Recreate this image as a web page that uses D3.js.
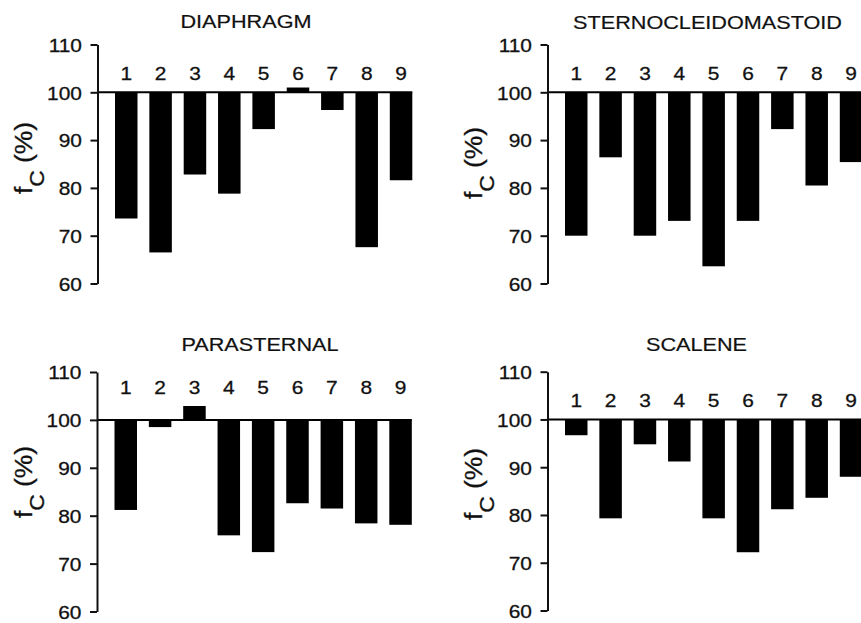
<!DOCTYPE html>
<html>
<head>
<meta charset="utf-8">
<script src="https://cdn.jsdelivr.net/npm/d3@7"></script>
<style>
  html, body { margin: 0; padding: 0; background: #fff; }
  svg { display: block; }
  text { font-family: "Liberation Sans", Arial, sans-serif; fill: #111; stroke: #111; stroke-width: 0.3px; }
</style>
</head>
<body>
<svg id="chart" width="861" height="623"></svg>
<script>
// Contraction frequency fc (% of control) for nine subjects, per muscle
const subjects = ["1", "2", "3", "4", "5", "6", "7", "8", "9"];
const muscles = ["DIAPHRAGM", "STERNOCLEIDOMASTOID", "PARASTERNAL", "SCALENE"];
const diaphragm = [73.6, 66.5, 82.8, 78.8, 92.3, 101.0, 96.3, 67.6, 81.6];
const sternocleidomastoid = [70.0, 86.4, 70.0, 73.1, 63.6, 73.1, 92.3, 80.5, 85.4];
const parasternal = [81.2, 98.5, 102.9, 75.9, 72.4, 82.6, 81.5, 78.4, 78.1];
const scalene = [96.7, 79.3, 94.8, 91.2, 79.3, 72.2, 81.2, 83.6, 88.0];
const yTicks = [60, 70, 80, 90, 100, 110];
const reference = 100;

const seriesList = [diaphragm, sternocleidomastoid, parasternal, scalene];

// Panel placement (pixels) and the level at which subject numbers sit
const layout = [
  { x0: 97.5, yTop: 44.5, yBot: 283.5, titleX: 246,   titleY: 27.5, labelLevel: 102.6, yLabelY: 158 },
  { x0: 547.5, yTop: 44.5, yBot: 283.5, titleX: 707.5, titleY: 28.5, labelLevel: 102.6, yLabelY: 163 },
  { x0: 97,   yTop: 372,  yBot: 611.5, titleX: 260,   titleY: 351,  labelLevel: 105.4, yLabelY: 482 },
  { x0: 547.5, yTop: 371.7, yBot: 610.5, titleX: 696.5, titleY: 351, labelLevel: 102.6, yLabelY: 484 }
];

const svg = d3.select("#chart");
const stretch = 1.1;

layout.forEach((L, p) => {
  const values = seriesList[p];
  const g = svg.append("g");

  const y = d3.scaleLinear().domain([60, 110]).range([L.yBot, L.yTop]);
  const bandStart = L.x0 + 17.5;
  const x = d3.scaleBand()
    .domain(subjects)
    .range([bandStart, bandStart + 8 * 34.35 + 22.5])
    .paddingInner(0.345)
    .paddingOuter(0);

  // bars hang from (or rise above) the 100 % reference
  g.selectAll("rect.bar")
    .data(values)
    .enter().append("rect")
    .attr("class", "bar")
    .attr("x", (d, i) => x(subjects[i]))
    .attr("width", x.bandwidth())
    .attr("y", d => y(Math.max(d, reference)))
    .attr("height", d => Math.abs(y(d) - y(reference)))
    .attr("fill", "#000");

  // reference line at 100 %
  g.append("line")
    .attr("x1", L.x0)
    .attr("x2", x(subjects[8]) + x.bandwidth())
    .attr("y1", y(reference))
    .attr("y2", y(reference))
    .attr("stroke", "#000")
    .attr("stroke-width", 2);

  // y axis
  const axis = g.append("g")
    .attr("transform", `translate(${L.x0},0)`)
    .call(d3.axisLeft(y).tickValues(yTicks).tickSize(7).tickSizeOuter(0).tickFormat(d3.format("d")));
  axis.select(".domain").attr("stroke", "#111").attr("stroke-width", 2);
  axis.selectAll(".tick line").attr("stroke", "#111").attr("stroke-width", 2);
  axis.selectAll(".tick text")
    .attr("x", null)
    .attr("dy", "0.36em")
    .attr("transform", `translate(-15.5,0) scale(${stretch},1)`)
    .style("font-family", "'Liberation Sans', Arial, sans-serif")
    .style("font-size", "19px")
    .style("fill", "#111")
    .style("stroke", "#111")
    .style("stroke-width", "0.3px");

  // subject numbers
  g.selectAll("text.subj")
    .data(subjects)
    .enter().append("text")
    .attr("class", "subj")
    .attr("text-anchor", "middle")
    .attr("transform", d => `translate(${x(d) + x.bandwidth() / 2},${y(L.labelLevel)}) scale(${stretch},1)`)
    .style("font-size", "19px")
    .text(d => d);

  // panel title
  g.append("text")
    .attr("text-anchor", "middle")
    .attr("transform", `translate(${L.titleX},${L.titleY}) scale(1.17,1)`)
    .style("font-size", "18.5px")
    .style("stroke-width", "0.2px")
    .text(muscles[p]);

  // y-axis label: fC (%)
  const yl = g.append("text")
    .attr("text-anchor", "middle")
    .attr("transform", `translate(${L.x0 - 65.5},${L.yLabelY}) rotate(-90) scale(1.2,1.1)`)
    .style("font-size", "22px");
  yl.append("tspan").text("f");
  yl.append("tspan").attr("baseline-shift", "sub").style("font-size", "19px").text("C");
  yl.append("tspan").text(" (%)");
});
</script>
</body>
</html>
